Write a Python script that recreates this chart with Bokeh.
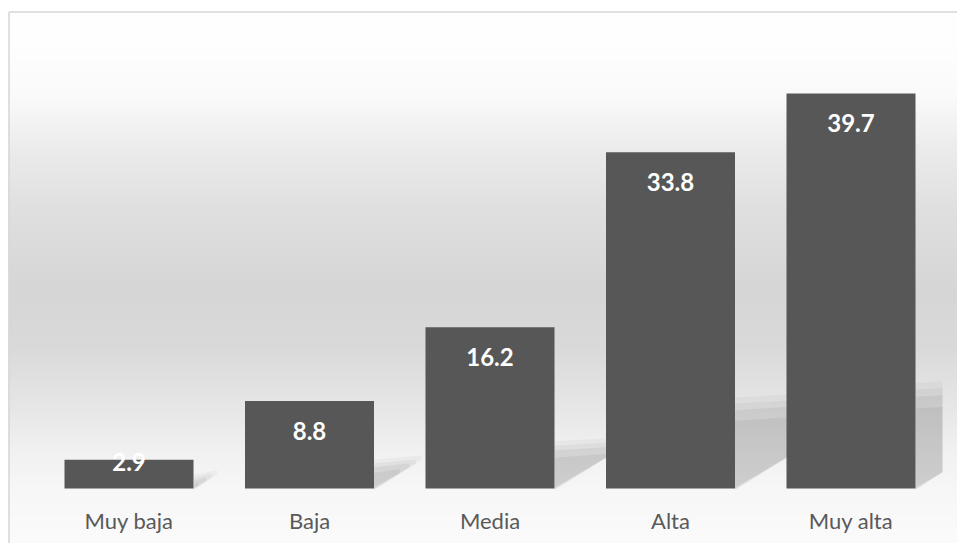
import numpy as np
from bokeh.plotting import figure
from bokeh.models import Range1d
from bokeh.core.properties import value
from bokeh.embed import file_html
from bokeh.resources import INLINE

# ---- data ----
categories = ["Muy baja", "Baja", "Media", "Alta", "Muy alta"]
values = [2.9, 8.8, 16.2, 33.8, 39.7]
value_labels = ["2.9", "8.8", "16.2", "33.8", "39.7"]

# ---- layout (pixels) ----
W, H = 957, 543
CAT_PX = 180.5          # pixels per category
FIRST_C = 128.5         # canvas x of first category centre
BASE_Y = 488            # canvas y of the zero line
PPU = 9.95              # pixels per value unit
TOP_LINE = 11           # canvas y of chart-area top border
LEFT_LINE = 8           # canvas x of chart-area left border
PLOT_RIGHT = 942        # canvas x of plot-area right edge (shadow clip)
BAR_PX = 129

x0 = -FIRST_C / CAT_PX
x1 = (W - FIRST_C) / CAT_PX
y0 = -(H - BASE_Y) / PPU
y1 = BASE_Y / PPU

def dx(px):
    return px / CAT_PX

def dy(px):
    return px / PPU

p = figure(width=W, height=H, x_range=Range1d(x0, x1), y_range=Range1d(y0, y1),
           output_backend="svg", toolbar_location=None, min_border=0)
p.axis.visible = False
p.grid.visible = False
p.outline_line_color = None
p.background_fill_color = "white"
p.border_fill_color = "white"

# ---- background gradient (chart area) ----
stops_y = [TOP_LINE, 48, 98, 148, 208, 290, 348, 408, 450, 488, 543]
stops_g = [255, 254, 250, 236, 224, 214, 218, 231, 241, 247, 251]
n = H - TOP_LINE
gw = W - LEFT_LINE
rows = np.arange(n)
canvas_y = H - rows - 0.5
g = np.interp(canvas_y, stops_y, stops_g).astype(np.uint8)
img = np.zeros((n, 1, 4), dtype=np.uint8)
img[:, 0, 0] = g
img[:, 0, 1] = g
img[:, 0, 2] = g
img[:, 0, 3] = 255
img32 = img.view(dtype=np.uint32).reshape((n, 1))
p.image_rgba(image=[img32], x=x0 + dx(LEFT_LINE), y=y0, dw=dx(gw), dh=dy(n))

# ---- border lines (left & top) ----
lx = x0 + dx(LEFT_LINE + 0.5)
ty = y1 - dy(TOP_LINE + 0.5)
p.segment(x0=[lx, lx], y0=[ty, y0], x1=[x1, lx], y1=[ty, ty],
          line_color="#d6d6d6", line_width=1.5)

# ---- perspective shadows (layered for softness) ----
idx = np.arange(len(categories))
half = dx(BAR_PX) / 2
xr_clip = x0 + dx(PLOT_RIGHT)

for hfac, grow, alpha in [(0.25, 7, 0.03), (0.24, 4, 0.04), (0.23, 1, 0.05), (0.21, -3, 0.05)]:
    xs, ys = [], []
    for i, v in zip(idx, values):
        hpx = v * PPU * hfac + grow
        R = i + half
        wpx = max(min(60 + grow, hpx / 0.6), 1)
        bot = min(0.6 * wpx, hpx)
        xa = R
        xb = min(R + dx(wpx), xr_clip)
        frac = (xb - xa) / dx(wpx)
        xs.append([xa, xb, xb, xa])
        ys.append([dy(-grow * 0.3), dy(bot * frac), dy(hpx + 4 * frac), dy(hpx)])
    p.patches(xs=xs, ys=ys, fill_color="black", fill_alpha=alpha, line_color=None)

# ---- bars ----
p.vbar(x=idx, top=values, bottom=0, width=dx(BAR_PX),
       fill_color="#575757", line_color=None)

# ---- value labels ----
label_y = [max(v - dy(30), dy(27)) for v in values]
p.text(x=idx, y=label_y, text=value_labels, text_color="white",
       text_font=value("Lato"), text_font_size="24px", text_font_style="bold",
       text_align="center", text_baseline="middle")

# ---- category labels ----
p.text(x=idx, y=[-dy(32)] * len(categories), text=categories, text_color="#595959",
       text_font=value("Lato"), text_font_size="22px",
       text_align="center", text_baseline="alphabetic")

open("out.html", "w").write(file_html(p, INLINE))
